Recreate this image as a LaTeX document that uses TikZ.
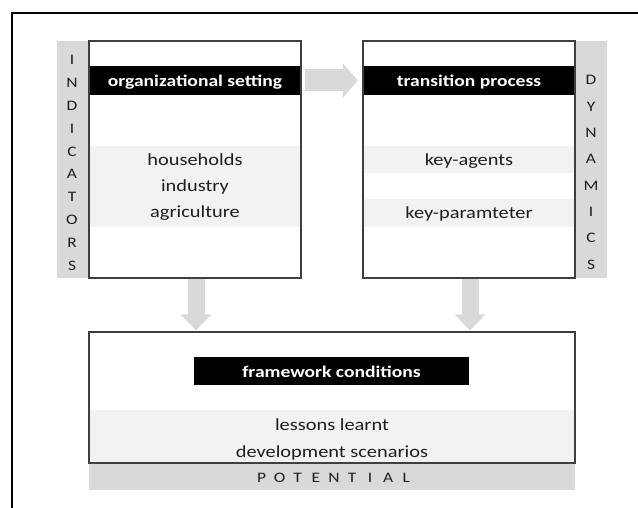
\documentclass[tikz,border=0pt]{standalone}
\usepackage{fontspec}
\setmainfont[FakeStretch=1.2]{Carlito}
\usetikzlibrary{arrows.meta}
\definecolor{stripgray}{HTML}{D9D9D9}
\definecolor{bandgray}{HTML}{F2F2F2}
\definecolor{edgegray}{HTML}{3F3F3F}
\definecolor{txt}{HTML}{1E1E1E}
\tikzset{
  boxframe/.style={draw=edgegray, line width=1.2pt, fill=none, inner sep=0pt},
  strip/.style={fill=stripgray, draw=none, inner sep=0pt},
  band/.style={fill=bandgray, draw=none, inner sep=0pt},
  titlebar/.style={fill=black, draw=none, inner sep=0pt},
  titletext/.style={text=white, inner sep=0pt, anchor=base, font=\fontsize{16.3}{19}\selectfont\bfseries},
  itemtext/.style={text=txt, inner sep=0pt, anchor=base, font=\fontsize{17}{20}\selectfont},
  letter/.style={text=txt, inner sep=0pt, text height=10pt, text depth=0pt, font=\fontsize{14.5}{17}\selectfont},
  flowarrow/.style={draw=stripgray, line width=#1},
}
\begin{document}
\begin{tikzpicture}[x=1pt, y=-1pt]
\useasboundingbox (0,0) rectangle (638,508);
% outer frame
\draw[line width=2pt] (12,508) -- (12,13) -- (638,13);

% ---- left box: organizational setting
\node[strip, minimum width=32pt, minimum height=237pt] (ind) at (73,159.5) {};
\node[band, minimum width=212pt, minimum height=81pt] (orgband) at (195,186.5) {};
\node[titlebar, minimum width=212pt, minimum height=29pt] (orgbar) at (195,80.5) {};
\node[titletext] (orgtitle) at (195,86.5) {organizational setting};
\node[boxframe, minimum width=212pt, minimum height=237pt] (org) at (195,159.5) {};
\node[itemtext] (hh) at (195,166) {households};
\node[itemtext] (ind2) at (195,192) {industry};
\node[itemtext] (agr) at (195,218) {agriculture};
\foreach \l [count=\i] in {I,N,D,I,C,A,T,O,R,S}
  \node[letter] (indl\i) at (72,{60+22.8*(\i-1)}) {\l};

% ---- right box: transition process
\node[strip, minimum width=32pt, minimum height=237pt] (dyn) at (591,159.5) {};
\node[band, minimum width=212pt, minimum height=27pt] (agband) at (469,159.5) {};
\node[band, minimum width=212pt, minimum height=28pt] (parband) at (469,213) {};
\node[titlebar, minimum width=212pt, minimum height=29pt] (transbar) at (469,80.5) {};
\node[titletext] (transtitle) at (469,86.5) {transition process};
\node[boxframe, minimum width=212pt, minimum height=237pt] (trans) at (469,159.5) {};
\node[itemtext] (ka) at (469,166) {key-agents};
\node[itemtext] (kp) at (469,219) {key-paramteter};
\foreach \l [count=\i] in {D,Y,N,A,M,I,C,S}
  \node[letter] (dynl\i) at (591,{80+26.3*(\i-1)}) {\l};

% ---- bottom box: framework conditions
\node[strip, minimum width=486pt, minimum height=27pt] (pot) at (332,476.5) {};
\node[band, minimum width=486pt, minimum height=53pt] (fwband) at (332,436.5) {};
\node[titlebar, minimum width=275pt, minimum height=28pt] (fwbar) at (331.5,371) {};
\node[titletext] (fwtitle) at (331.5,377) {framework conditions};
\node[boxframe, minimum width=486pt, minimum height=131pt] (fw) at (332,397.5) {};
\node[itemtext] (ll) at (332,430) {lessons learnt};
\node[itemtext] (ds) at (332,457) {development scenarios};
\foreach \l [count=\i] in {P,O,T,E,N,T,I,A,L}
  \node[letter] (potl\i) at ({261.5+18.1*(\i-1)},477) {\l};

% ---- arrows
\draw[flowarrow=22pt, -{Triangle[length=15pt, width=34pt]}, shorten <=4pt, shorten >=5pt]
  (orgbar.east) -- (transbar.west);
\draw[flowarrow=17pt, -{Triangle[length=16pt, width=30pt]}, shorten >=1pt]
  ([xshift=1pt]org.south) -- ([xshift=1pt]org.south |- fw.north);
\draw[flowarrow=17pt, -{Triangle[length=16pt, width=30pt]}, shorten >=1pt]
  ([xshift=1pt]trans.south) -- ([xshift=1pt]trans.south |- fw.north);
\end{tikzpicture}
\end{document}
